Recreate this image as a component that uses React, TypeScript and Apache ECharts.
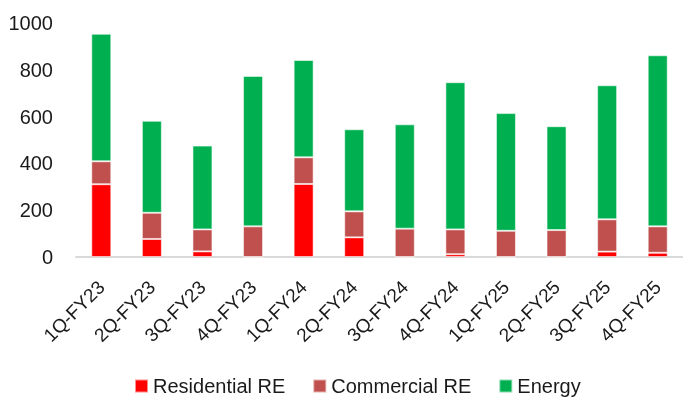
import React, { useEffect, useRef } from "react";
import * as echarts from "echarts";

const categories = ["1Q-FY23", "2Q-FY23", "3Q-FY23", "4Q-FY23", "1Q-FY24", "2Q-FY24", "3Q-FY24", "4Q-FY24", "1Q-FY25", "2Q-FY25", "3Q-FY25", "4Q-FY25"];
const residentialRE = [311, 77, 24, 0, 312, 84, 0, 12, 0, 0, 23, 18];
const commercialRE = [98, 112, 94, 131, 114, 111, 121, 106, 112, 115, 138, 113];
const energy = [545, 393, 358, 643, 416, 351, 446, 629, 503, 444, 573, 731];
const yTicks = [0, 200, 400, 600, 800, 1000];

const FONT = "'Liberation Sans', Arial, sans-serif";

export default function App() {
  const ref = useRef<HTMLDivElement>(null);
  useEffect(() => {
    if (!ref.current) return;
    const chart = echarts.init(ref.current, null, { renderer: "svg" });
    const border = { borderColor: "rgba(255,255,255,0.55)", borderWidth: 1 };
    chart.setOption({
      animation: false,
      grid: { left: 76, right: -4, top: 23, bottom: 140, containLabel: false },
      legend: {
        left: 134,
        top: 376,
        padding: 0,
        itemWidth: 13,
        itemHeight: 13,
        itemGap: 27,
        icon: "rect",
        textStyle: { fontFamily: FONT, fontSize: 20, color: "#1a1a1a" },
        data: ["Residential RE", "Commercial RE", "Energy"],
      },
      xAxis: {
        type: "category",
        data: categories,
        axisLine: { show: true, lineStyle: { color: "#d9d9d9", width: 2 } },
        axisTick: { show: false },
        axisLabel: { rotate: 45, margin: 27, fontFamily: FONT, fontSize: 19, color: "#1a1a1a", interval: 0 },
      },
      yAxis: {
        type: "value",
        min: yTicks[0],
        max: yTicks[yTicks.length - 1],
        interval: 200,
        axisLine: { show: false },
        axisTick: { show: false },
        splitLine: { show: false },
        axisLabel: { margin: 23, fontFamily: FONT, fontSize: 20, color: "#1a1a1a", formatter: (v: number) => String(v) },
      },
      series: [
        { name: "Residential RE", type: "bar", stack: "t", data: residentialRE, barWidth: 20, itemStyle: { color: "#ff0000", ...border } },
        { name: "Commercial RE", type: "bar", stack: "t", data: commercialRE, barWidth: 20, itemStyle: { color: "#c0504d", ...border } },
        { name: "Energy", type: "bar", stack: "t", data: energy, barWidth: 20, itemStyle: { color: "#00b050", ...border } },
      ],
    });
    return () => chart.dispose();
  }, []);
  return <div ref={ref} style={{ position: "fixed", left: 0, top: 0, width: 683, height: 397 }} />;
}
